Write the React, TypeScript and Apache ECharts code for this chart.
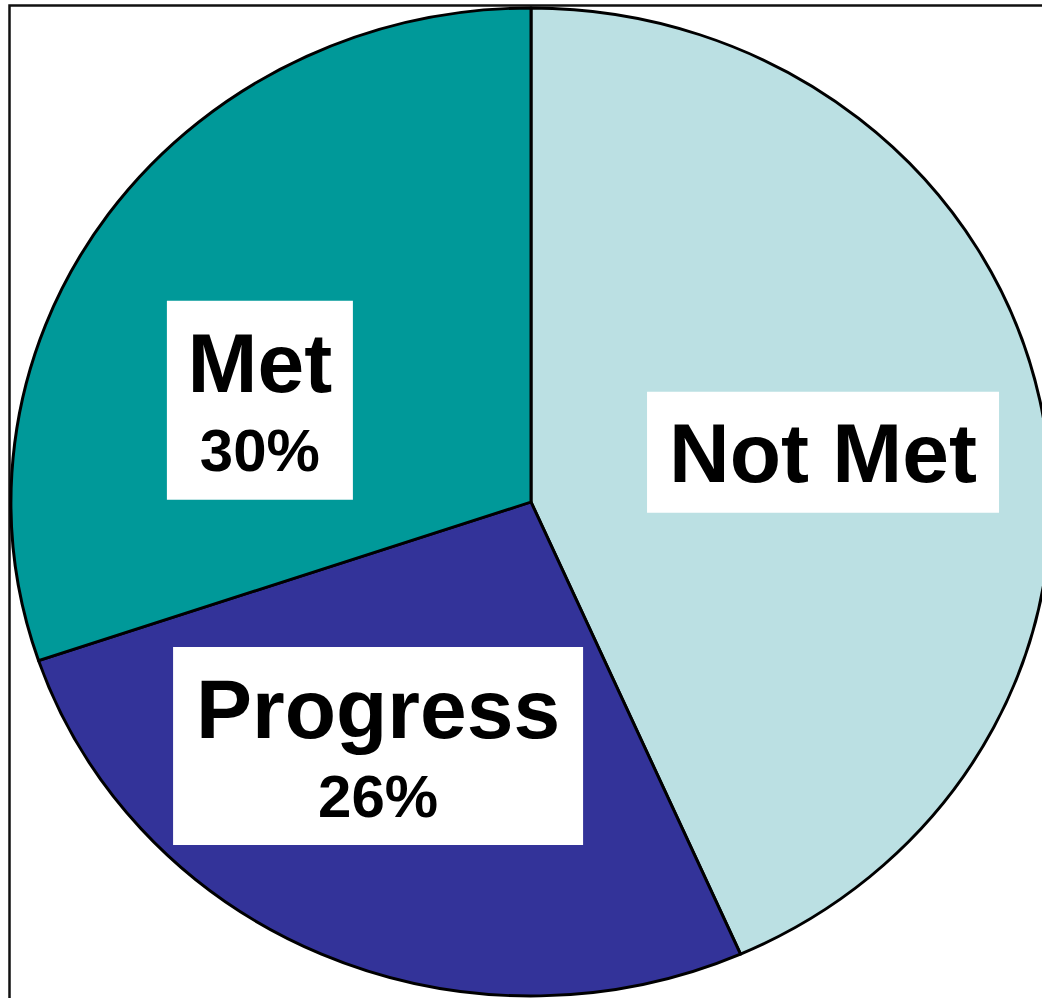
import React, { useEffect, useRef } from "react";
import * as echarts from "echarts";

// ---- data ----
const categories = ["Not Met", "Progress", "Met"];
const values = [43.4, 26.4, 30.2];
const showPercent = [false, true, true];
const sliceColors = ["#BBE0E3", "#333399", "#009999"];

// ---- layout (not data) ----
const CX = 531;
const CY = 502;
const RX = 520;
const RY = 494;
const labelRadius = [0.5706, 0.575, 0.5605];
const labelAngleShiftDeg = [1.7, 7, -14.1];
const labelBox = [
  [352, 121],
  [410, 198],
  [186, 199],
];
const FONT = '"Liberation Sans", Arial, Helvetica, sans-serif';

export default function App() {
  const ref = useRef<HTMLDivElement>(null);
  useEffect(() => {
    if (!ref.current) return;
    const chart = echarts.init(ref.current, undefined, { renderer: "svg" });
    const total = values.reduce((a, b) => a + b, 0);
    const option: any = {
      animation: false,
      backgroundColor: "#ffffff",
      graphic: [
        {
          type: "rect",
          z: 0,
          shape: { x: 9.5, y: 5.5, width: 1300, height: 1300 },
          style: { fill: "none", stroke: "#111111", lineWidth: 2.5 },
        },
      ],
      series: [
        {
          type: "custom",
          coordinateSystem: "none",
          z: 2,
          data: values.map((v, i) => ({ name: categories[i], value: v })),
          renderItem: (params: any, api: any) => {
            const i = params.dataIndex;
            const v = api.value(0);
            let cum = 0;
            for (let k = 0; k < i; k++) cum += values[k];
            const start = -Math.PI / 2 + (cum / total) * Math.PI * 2;
            const end = start + (v / total) * Math.PI * 2;
            const mid = (start + end) / 2 + (labelAngleShiftDeg[i] * Math.PI) / 180;
            const lx = CX + Math.cos(mid) * RX * labelRadius[i];
            const ly = CY + Math.sin(mid) * RY * labelRadius[i];
            const [bw, bh] = labelBox[i];
            const pct = Math.round((v / total) * 100) + "%";
            const children: any[] = [
              {
                type: "sector",
                shape: { cx: CX, cy: CY, r: RX, r0: 0, startAngle: start, endAngle: end, clockwise: true },
                originX: CX,
                originY: CY,
                scaleY: RY / RX,
                style: { fill: sliceColors[i], stroke: "#000000", lineWidth: 3, lineJoin: "round" },
              },
              {
                type: "rect",
                z2: 10,
                shape: { x: lx - bw / 2, y: ly - bh / 2, width: bw, height: bh },
                style: { fill: "#ffffff" },
              },
              {
                type: "text",
                z2: 11,
                x: lx,
                y: showPercent[i] ? ly - 37 : ly + 1,
                style: {
                  text: categories[i],
                  fontSize: 84,
                  fontWeight: "bold",
                  fontFamily: FONT,
                  fill: "#000000",
                  align: "center",
                  verticalAlign: "middle",
                },
              },
            ];
            if (showPercent[i]) {
              children.push({
                type: "text",
                z2: 11,
                x: lx,
                y: ly + 50,
                style: {
                  text: pct,
                  fontSize: 60,
                  fontWeight: "bold",
                  fontFamily: FONT,
                  fill: "#000000",
                  align: "center",
                  verticalAlign: "middle",
                },
              });
            }
            return { type: "group", children };
          },
        },
      ],
    };
    chart.setOption(option);
    return () => chart.dispose();
  }, []);
  return (
    <div
      ref={ref}
      style={{ position: "absolute", left: 0, top: 0, width: 1042, height: 998, background: "#fff" }}
    />
  );
}
